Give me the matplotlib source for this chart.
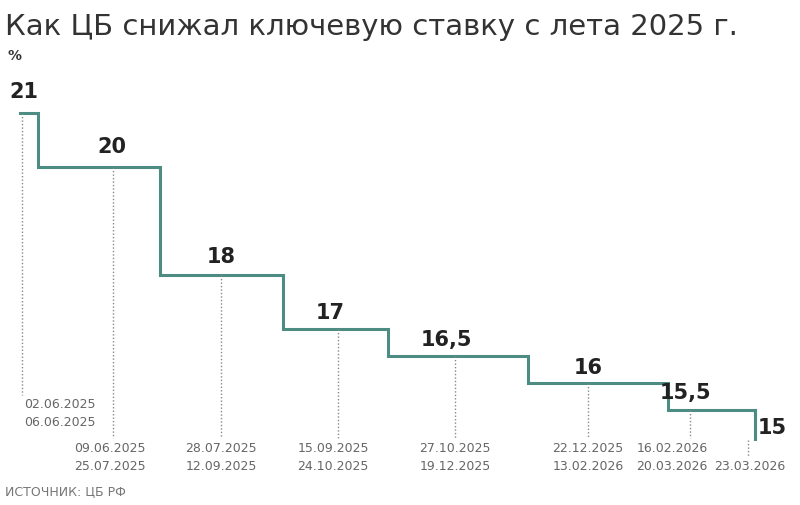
import matplotlib
matplotlib.use("Agg")
import matplotlib.pyplot as plt
import pandas as pd

starts = ["2025-06-02","2025-06-09","2025-07-28","2025-09-15","2025-10-27","2025-12-22","2026-02-16","2026-03-23"]
rates  = [21, 20, 18, 17, 16.5, 16, 15.5, 15]
rate_labels = ["21","20","18","17","16,5","16","15,5","15"]
date_labels = ["02.06.2025\n06.06.2025","09.06.2025\n25.07.2025","28.07.2025\n12.09.2025",
               "15.09.2025\n24.10.2025","27.10.2025\n19.12.2025","22.12.2025\n13.02.2026",
               "16.02.2026\n20.03.2026","23.03.2026"]

t0 = pd.Timestamp("2025-06-02")
sd = [(pd.Timestamp(s)-t0).days for s in starts]

fig = plt.figure(figsize=(8,5.05), dpi=100)
ax = fig.add_axes([0,0,1,1])
ax.set_xlim(-8, 312)
ax.set_ylim(13.74, 23.09)
ax.axis("off")
col = "#4d8c82"
ax.step(sd, rates, where="post", color=col, lw=2.2, solid_joinstyle="miter")
ax.plot([sd[-1], sd[-1]], [rates[-2], 14.97], color=col, lw=2.2)

def px2d(px): return (px-20)/2.5
def py2v(py): return 21-(py-113)/54

line_px = [22, 113, 221, 338, 455, 588, 690, 748]
lab_px  = [60, 110, 221, 333, 455, 588, 672, 750]
lab_py  = [414, 458, 458, 458, 458, 458, 458, 467]
val_px  = [(24,92),(112,147),(221,257),(330,313),(446,340),(588,368),(685,393),(772,428)]
for i in range(8):
    x = px2d(line_px[i])
    top = rates[i]
    bottom = py2v(395) if i == 0 else py2v(438)
    if i == 7:
        top = py2v(440); bottom = py2v(456)
    ax.plot([x, x], [top, bottom], color="#888888", lw=1, ls=(0,(1,1.5)))
    ax.text(px2d(lab_px[i]), py2v(lab_py[i]), date_labels[i], ha="center", va="center",
            fontsize=9, color="#666666", linespacing=1.5)
    vx, vy = val_px[i]
    ax.text(px2d(vx), py2v(vy), rate_labels[i], ha="center", va="center",
            fontsize=15, fontweight="bold", color="#222222")

fig.text(5/800, 1-27/505, "Как ЦБ снижал ключевую ставку с лета 2025 г.", fontsize=21,
         color="#333333", va="center", ha="left")
fig.text(7/800, 1-56/505, "%", fontsize=10, fontweight="bold", color="#333333", va="center")
fig.text(5/800, 1-492/505, "ИСТОЧНИК: ЦБ РФ", fontsize=9, color="#777777", va="center")
fig.savefig("out.png", dpi=100)
